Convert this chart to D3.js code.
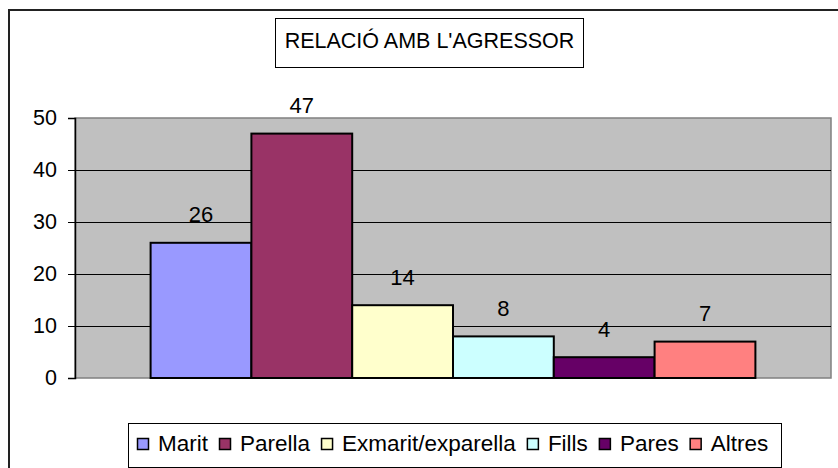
<!DOCTYPE html>
<html>
<head>
<meta charset="utf-8">
<script src="https://cdn.jsdelivr.net/npm/d3@7"></script>
<style>
  body { margin: 0; background: #fff; }
  text { font-family: Arial, "Liberation Sans", sans-serif; fill: #000; }
</style>
</head>
<body>
<div id="chart"></div>
<script>
// data
const categories = ["Marit", "Parella", "Exmarit/exparella", "Fills", "Pares", "Altres"];
const values = [26, 47, 14, 8, 4, 7];
const yTicks = [0, 10, 20, 30, 40, 50];
const title = "RELACIÓ AMB L'AGRESSOR";

// excel-ish palette
const colors = ["#9999FF", "#993366", "#FFFFCC", "#CCFFFF", "#660066", "#FF8080"];

const W = 838, H = 468;
const plot = { left: 75, top: 118, right: 831, bottom: 378 };
const fontSize = 21.5;

const svg = d3.select("#chart")
  .append("svg")
  .attr("width", W)
  .attr("height", H);

// chart area border (runs off the right and bottom of the picture)
svg.append("rect")
  .attr("x", 9).attr("y", 10)
  .attr("width", W + 10).attr("height", H + 10)
  .attr("fill", "#fff")
  .attr("stroke", "#222")
  .attr("stroke-width", 2);

// title box
const titleBox = svg.append("g");
titleBox.append("rect")
  .attr("x", 275.5).attr("y", 18.5)
  .attr("width", 308).attr("height", 49)
  .attr("fill", "#fff")
  .attr("stroke", "#000");
titleBox.append("text")
  .attr("x", 429.5).attr("y", 48)
  .attr("text-anchor", "middle")
  .style("font-size", fontSize + "px")
  .text(title);

// scales
const x = d3.scaleBand()
  .domain(categories)
  .range([plot.left, plot.right])
  .paddingInner(0)
  .paddingOuter(0.75);

const y = d3.scaleLinear()
  .domain([0, 50])
  .range([plot.bottom, plot.top]);

// plot background
svg.append("rect")
  .attr("x", plot.left).attr("y", plot.top)
  .attr("width", plot.right - plot.left)
  .attr("height", plot.bottom - plot.top)
  .attr("fill", "#C0C0C0")
  .attr("stroke", "#808080")
  .attr("stroke-width", 1.5);

// gridlines
svg.append("g")
  .selectAll("line")
  .data(yTicks.filter(t => t > 0 && t < 50))
  .enter()
  .append("line")
    .attr("x1", plot.left).attr("x2", plot.right)
    .attr("y1", t => Math.round(y(t)) + 0.5)
    .attr("y2", t => Math.round(y(t)) + 0.5)
    .attr("stroke", "#000");

// bars
svg.append("g")
  .selectAll("rect")
  .data(values)
  .enter()
  .append("rect")
    .attr("x", (v, i) => x(categories[i]))
    .attr("y", v => y(v))
    .attr("width", x.bandwidth())
    .attr("height", v => y(0) - y(v))
    .attr("fill", (v, i) => colors[i])
    .attr("stroke", "#000")
    .attr("stroke-width", 2);

// value labels
svg.append("g")
  .selectAll("text")
  .data(values)
  .enter()
  .append("text")
    .attr("x", (v, i) => x(categories[i]) + x.bandwidth() / 2)
    .attr("y", v => y(v) - 20.5)
    .attr("text-anchor", "middle")
    .style("font-size", "22px")
    .text(v => v);

// y axis
const yAxis = svg.append("g")
  .attr("transform", `translate(${plot.left}, 0)`)
  .call(d3.axisLeft(y).tickValues(yTicks).tickSize(7).tickPadding(11));
yAxis.select(".domain").attr("stroke", "#000").attr("stroke-width", 1.5);
yAxis.selectAll(".tick line").attr("stroke", "#000");
yAxis.selectAll(".tick text")
  .attr("font-family", null)
  .style("font-size", fontSize + "px")
  .attr("fill", "#000");

// legend
const legend = svg.append("g");
legend.append("rect")
  .attr("x", 128.5).attr("y", 423.5)
  .attr("width", 653).attr("height", 44)
  .attr("fill", "#fff")
  .attr("stroke", "#000");

let lx = 137;
categories.forEach((c, i) => {
  legend.append("rect")
    .attr("x", lx + 0.5).attr("y", 438.5)
    .attr("width", 11).attr("height", 11)
    .attr("fill", colors[i])
    .attr("stroke", "#000")
    .attr("stroke-width", 1.5);
  const t = legend.append("text")
    .attr("x", lx + 21)
    .attr("y", 451)
    .style("font-size", "22.5px")
    .text(c);
  lx = lx + 21 + t.node().getComputedTextLength() + 11;
});
</script>
</body>
</html>
